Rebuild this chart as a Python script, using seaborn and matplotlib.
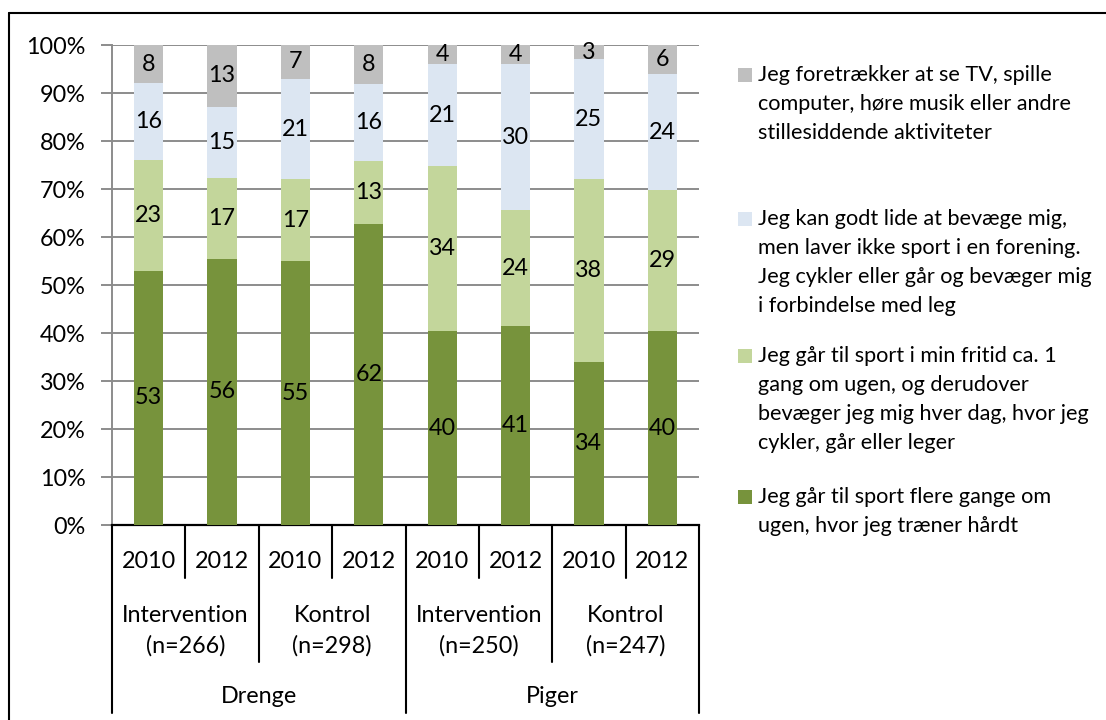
import matplotlib
matplotlib.use("Agg")
import matplotlib.pyplot as plt
import seaborn as sns
import pandas as pd
import numpy as np
from matplotlib.lines import Line2D
from matplotlib.patches import Rectangle

# ---------------- data ----------------
genders = ["Drenge", "Piger"]
groups = ["Intervention\n(n=266)", "Kontrol\n(n=298)",
          "Intervention\n(n=250)", "Kontrol\n(n=247)"]
years = ["2010", "2012", "2010", "2012", "2010", "2012", "2010", "2012"]

hard = [53, 56, 55, 62, 40, 41, 34, 40]       # flere gange om ugen
weekly = [23, 17, 17, 13, 34, 24, 38, 29]     # ca. 1 gang om ugen
active = [16, 15, 21, 16, 21, 30, 25, 24]     # bevæger mig, ikke forening
passive = [8, 13, 7, 8, 4, 4, 3, 6]           # TV, computer ...

series_values = [hard, weekly, active, passive]
series_labels = [
    "Jeg går til sport flere gange om\nugen, hvor jeg træner hårdt",
    "Jeg går til sport i min fritid ca. 1\ngang om ugen, og derudover\nbevæger jeg mig hver dag, hvor jeg\ncykler, går eller leger",
    "Jeg kan godt lide at bevæge mig,\nmen laver ikke sport i en forening.\nJeg cykler eller går og bevæger mig\ni forbindelse med leg",
    "Jeg foretrækker at se TV, spille\ncomputer, høre musik eller andre\nstillesiddende aktiviteter",
]
colors = ["#77933C", "#C3D69B", "#DCE6F2", "#BFBFBF"]

# ---------------- style ----------------
sns.set_theme(style="white")
plt.rcParams["font.family"] = ["Lato", "DejaVu Sans"]
FS = 16.8
LFS = 15.6

W, H = 1106, 720
fig = plt.figure(figsize=(W / 100, H / 100), dpi=100)
ax = fig.add_axes([112 / W, 195 / H, (699 - 112) / W, 480 / H])

bar_ids = [f"b{i}" for i in range(len(years))]
raw = np.array(series_values, dtype=float)
totals = raw.sum(axis=0)
pct = raw / totals * 100.0

df = pd.DataFrame({"bar": bar_ids})
bottoms = np.zeros(len(bar_ids))
for k in range(len(series_values)):
    col = f"s{k}"
    df[col] = pct[k]
    sns.barplot(data=df, x="bar", y=col, order=bar_ids, bottom=bottoms,
                color=colors[k], saturation=1, width=0.4, errorbar=None,
                edgecolor="none", linewidth=0, ax=ax, zorder=3)
    ax.bar_label(ax.containers[-1], labels=[str(v) for v in series_values[k]],
                 label_type="center", fontsize=FS, color="black", zorder=4)
    bottoms = bottoms + pct[k]

# ---------------- axes ----------------
ax.set_xlim(-0.5, len(bar_ids) - 0.5)
ax.set_ylim(0, 100)
ax.set_yticks(np.arange(0, 101, 10))
ax.set_yticklabels([f"{t}%" for t in range(0, 101, 10)], fontsize=FS, color="black")
ax.set_xticks([])
ax.set_xlabel("")
ax.set_ylabel("")
ax.grid(axis="y", color="#8C8C8C", linewidth=1.4, zorder=0)
ax.set_axisbelow(True)
ax.tick_params(axis="y", which="both", left=True, length=8, width=1.4,
               color="#8C8C8C", pad=11)
for s in ["top", "right"]:
    ax.spines[s].set_visible(False)
ax.spines["left"].set_color("#8C8C8C")
ax.spines["left"].set_linewidth(1.4)
ax.spines["bottom"].set_color("black")
ax.spines["bottom"].set_linewidth(1.6)

# ---------------- multi-level category axis ----------------
trans = ax.get_xaxis_transform()
def vline(x, y1):
    ax.add_line(Line2D([x, x], [0, y1], transform=trans, color="black",
                       linewidth=1.5, clip_on=False))

for x in [0.5, 2.5, 4.5, 6.5]:
    vline(x, -0.110)
for x in [1.5, 5.5]:
    vline(x, -0.285)
for x in [-0.5, 3.5, 7.5]:
    vline(x, -0.392)

for i, y in enumerate(years):
    ax.text(i, -0.075, y, transform=trans, ha="center", va="center",
            fontsize=FS, color="black")
for j, g in enumerate(groups):
    ax.text(2 * j + 0.5, -0.220, g, transform=trans, ha="center", va="center",
            fontsize=FS, color="black", linespacing=1.5)
for j, g in enumerate(genders):
    ax.text(4 * j + 1.5, -0.358, g, transform=trans, ha="center", va="center",
            fontsize=FS, color="black")

# ---------------- legend (reversed order, top = last series) ----------------
leg_baselines = [81, 225, 362, 503]
for n, k in enumerate(reversed(range(len(series_values)))):
    yb = leg_baselines[n]
    fig.add_artist(Rectangle((738 / W, 1 - (yb + 1) / H), 14 / W, 14 / H,
                             transform=fig.transFigure, facecolor=colors[k],
                             edgecolor="none"))
    fig.text(758 / W, 1 - (yb - 16) / H, series_labels[k], ha="left", va="top",
             fontsize=LFS, color="black", linespacing=1.56)

# ---------------- outer border ----------------
fig.add_artist(Line2D([9 / W, 1], [1 - 13 / H, 1 - 13 / H],
                      transform=fig.transFigure, color="black", linewidth=1.5))
fig.add_artist(Line2D([9 / W, 9 / W], [0, 1 - 13 / H],
                      transform=fig.transFigure, color="black", linewidth=1.5))

fig.savefig("out.png", dpi=100, facecolor="white")
